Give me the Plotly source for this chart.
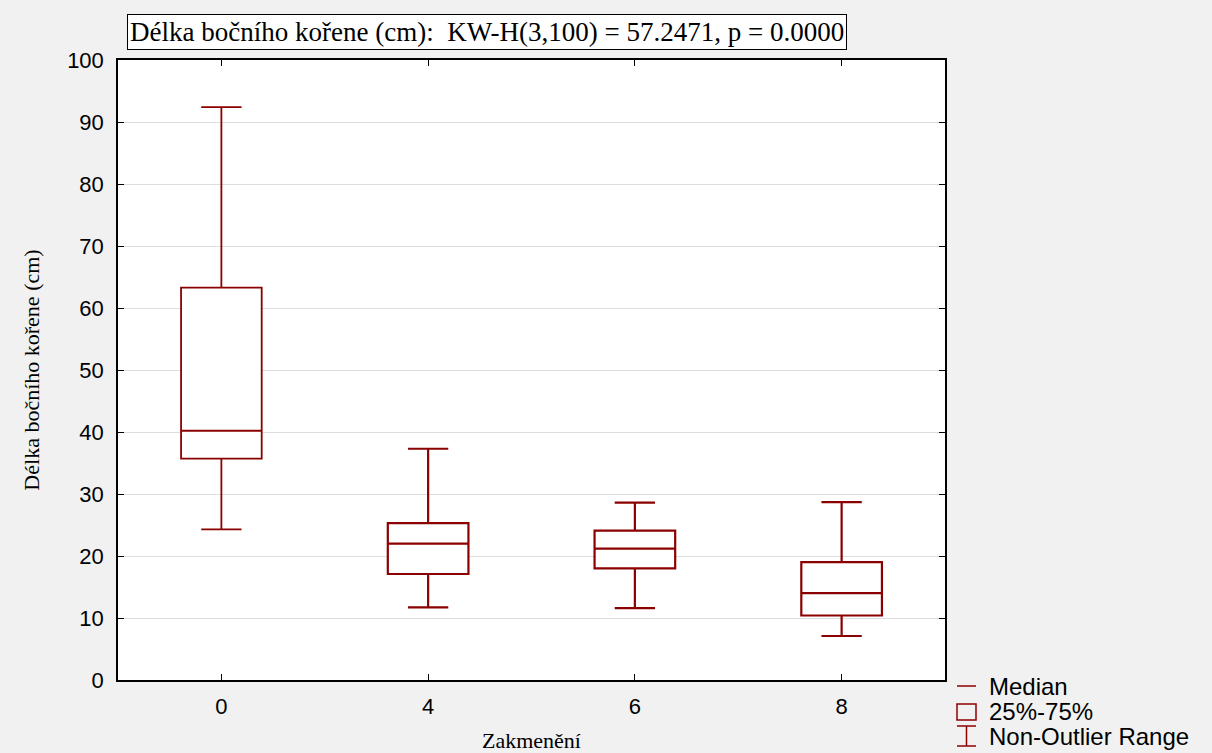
import plotly.graph_objects as go

# ---- data ----
categories = ["0", "4", "6", "8"]
whisker_low = [24.3, 11.7, 11.6, 7.1]
q1_vals = [35.7, 17.1, 18.0, 10.4]
median_vals = [40.2, 22.0, 21.2, 14.0]
q3_vals = [63.3, 25.3, 24.1, 19.0]
whisker_high = [92.4, 37.3, 28.6, 28.7]
y_ticks = [0, 10, 20, 30, 40, 50, 60, 70, 80, 90, 100]

title_text = "Délka bočního kořene (cm):  KW-H(3,100) = 57.2471, p = 0.0000"
y_title = "Délka bočního kořene (cm)"
x_title = "Zakmenění"
legend_labels = ["Median", "25%-75%", "Non-Outlier Range"]

BOX_COLOR = "#8b0000"
W, H = 1212, 753
L, R, T, B = 118, 945, 60, 680  # plot area in pixels

def px(x):
    return (x - L) / (R - L)

def py(y):
    return (B - y) / (B - T)

fig = go.Figure()
line_widths = [1.8, 2.2, 2.2, 2.2]
for i, c in enumerate(categories):
    fig.add_trace(go.Box(
        x=[c],
        q1=[q1_vals[i]], median=[median_vals[i]], q3=[q3_vals[i]],
        lowerfence=[whisker_low[i]], upperfence=[whisker_high[i]],
        width=0.39, whiskerwidth=0.5,
        fillcolor="white",
        line=dict(color=BOX_COLOR, width=line_widths[i]),
        boxpoints=False, showlegend=False, hoverinfo="skip",
    ))

fig.update_layout(
    width=W, height=H,
    margin=dict(l=L, r=W - R, t=T, b=H - B, pad=0, autoexpand=False),
    paper_bgcolor="#f1f1f1",
    plot_bgcolor="white",
    showlegend=False,
    font=dict(family="Liberation Sans, Arial", size=20, color="black"),
)
fig.update_xaxes(
    type="category", categoryorder="array", categoryarray=categories,
    range=[-0.5, 3.5], automargin=False,
    showline=True, linecolor="black", linewidth=1.5, mirror="ticks",
    ticks="inside", ticklen=6, tickcolor="black", tickwidth=1,
    showgrid=False, zeroline=False,
    tickfont=dict(family="Liberation Sans, Arial", size=22),
    ticklabelstandoff=6,
    title=dict(text=x_title, font=dict(family="Liberation Serif, Times New Roman", size=22), standoff=14),
)
fig.update_yaxes(
    range=[0, 100], tickvals=y_ticks, automargin=False,
    showline=True, linecolor="black", linewidth=1.5, mirror="ticks",
    ticks="inside", ticklen=6, tickcolor="black", tickwidth=1,
    showgrid=True, gridcolor="#dddddd", gridwidth=1, zeroline=False,
    tickfont=dict(family="Liberation Sans, Arial", size=22),
    ticklabelstandoff=8,
    title=dict(text=y_title, font=dict(family="Liberation Serif, Times New Roman", size=22), standoff=21),
)

# title box
fig.add_annotation(
    x=px(487), y=py(32), xref="paper", yref="paper",
    text=title_text, showarrow=False,
    font=dict(family="Liberation Serif, Times New Roman", size=27, color="black"),
    bgcolor="white", bordercolor="black", borderwidth=1, borderpad=2,
    xanchor="center", yanchor="middle",
)

# custom legend
shapes = []
# median line
shapes.append(dict(type="line", xref="paper", yref="paper",
                   x0=px(957), x1=px(976), y0=py(686), y1=py(686),
                   line=dict(color=BOX_COLOR, width=1.5)))
# box square
shapes.append(dict(type="rect", xref="paper", yref="paper",
                   x0=px(957), x1=px(976), y0=py(720), y1=py(704),
                   line=dict(color=BOX_COLOR, width=1.5), fillcolor="rgba(0,0,0,0)"))
# whisker I-bar
shapes.append(dict(type="line", xref="paper", yref="paper",
                   x0=px(966.5), x1=px(966.5), y0=py(726), y1=py(746),
                   line=dict(color=BOX_COLOR, width=1.5)))
for yy in (726, 746):
    shapes.append(dict(type="line", xref="paper", yref="paper",
                       x0=px(957), x1=px(976), y0=py(yy), y1=py(yy),
                       line=dict(color=BOX_COLOR, width=1.5)))
fig.update_layout(shapes=shapes)

for lab, yy in zip(legend_labels, [686, 711, 736]):
    fig.add_annotation(
        x=px(987), y=py(yy), xref="paper", yref="paper",
        text=lab, showarrow=False, xanchor="left", yanchor="middle",
        font=dict(family="Liberation Sans, Arial", size=24, color="black"),
    )

fig.write_html("out.html")
